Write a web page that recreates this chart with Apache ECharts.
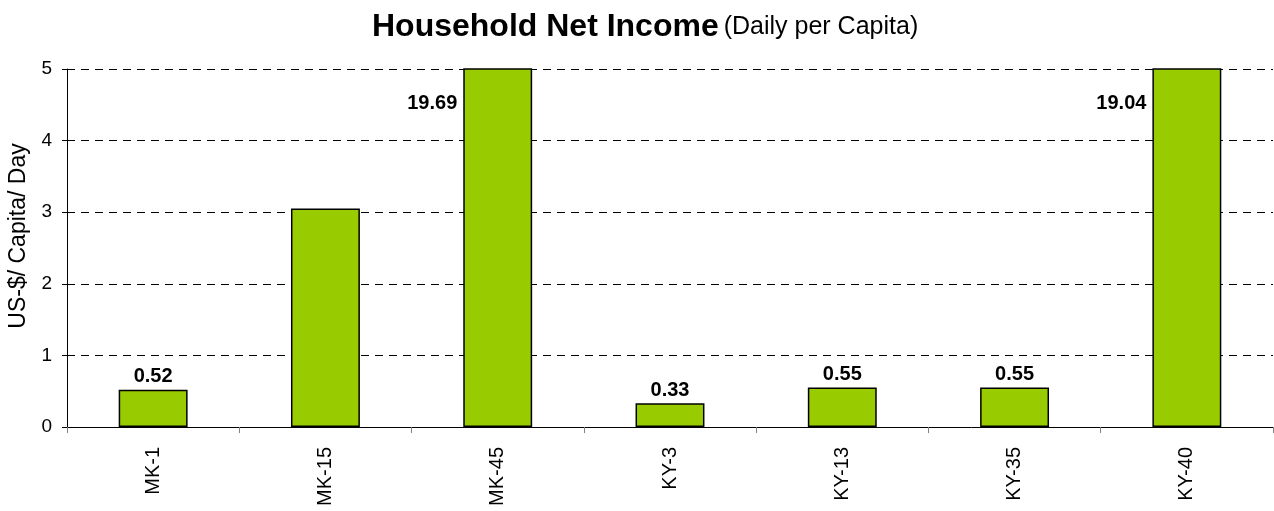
<!DOCTYPE html>
<html>
<head>
<meta charset="utf-8">
<script src="https://cdn.jsdelivr.net/npm/echarts@6/dist/echarts.min.js"></script>
<style>
	html, body { margin: 0; padding: 0; background: #fff; }
	#chart { width: 1274px; height: 511px; }
</style>
</head>
<body>
<div id="chart"></div>
<script>
	// 数据
	var categories = ['MK-1', 'MK-15', 'MK-45', 'KY-3', 'KY-13', 'KY-35', 'KY-40']
	var values = [0.52, 3.05, 19.69, 0.33, 0.55, 0.55, 19.04]
	var showLabel = [true, false, true, true, true, true, true]
	var yTicks = [0, 1, 2, 3, 4, 5]

	var font = 'Liberation Sans, Arial, sans-serif'
	var yMax = yTicks[yTicks.length - 1]

	var barData = values.map(function(v, i) {
		var item = { value: v }
		if (!showLabel[i]) {
			item.label = { show: false }
		} else if (v > yMax) {
			// 超出坐标轴的柱子，标签放在左边
			item.label = {
				show: true,
				position: [-6, 35],
				align: 'right',
				verticalAlign: 'middle'
			}
		}
		return item
	})

	var myChart = echarts.init(document.getElementById('chart'))
	myChart.setOption({
		animation: false,
		title: {
			text: '{b|Household Net Income} {n|(Daily per Capita)}',
			left: 367,
			top: 6,
			textStyle: {
				rich: {
					b: { fontFamily: font, fontSize: 32, fontWeight: 'bold', color: '#000' },
					n: { fontFamily: font, fontSize: 25, fontWeight: 'normal', color: '#000' }
				}
			}
		},
		grid: {
			left: 67,
			right: 1,
			top: 69,
			bottom: 84,
			outerBoundsMode: 'none'
		},
		xAxis: {
			type: 'category',
			data: categories,
			axisLine: { lineStyle: { color: '#000', width: 1 } },
			axisTick: { show: true, length: 6, lineStyle: { color: '#808080' } },
			axisLabel: {
				rotate: 90,
				fontFamily: font,
				fontSize: 20,
				color: '#000',
				margin: 20
			}
		},
		yAxis: {
			type: 'value',
			min: 0,
			max: yMax,
			interval: 1,
			name: 'US-$/ Capita/ Day',
			nameLocation: 'middle',
			nameRotate: 90,
			nameGap: 32,
			nameTextStyle: { fontFamily: font, fontSize: 23, color: '#000', padding: [0, 0, 0, 24] },
			axisLine: { show: true, lineStyle: { color: '#000', width: 1 } },
			axisTick: { show: true, length: 5, lineStyle: { color: '#000' } },
			axisLabel: { fontFamily: font, fontSize: 19, color: '#000', margin: 15 },
			splitLine: { show: true, lineStyle: { color: '#000', type: [8, 6], width: 1 } }
		},
		series: [{
			type: 'bar',
			data: barData,
			barCategoryGap: '60%',
			clip: true,
			itemStyle: {
				color: '#99CC00',
				borderColor: '#000',
				borderWidth: 1.5
			},
			label: {
				show: true,
				position: 'top',
				distance: 3,
				fontFamily: font,
				fontSize: 20,
				fontWeight: 'bold',
				color: '#000'
			}
		}]
	})
</script>
</body>
</html>
